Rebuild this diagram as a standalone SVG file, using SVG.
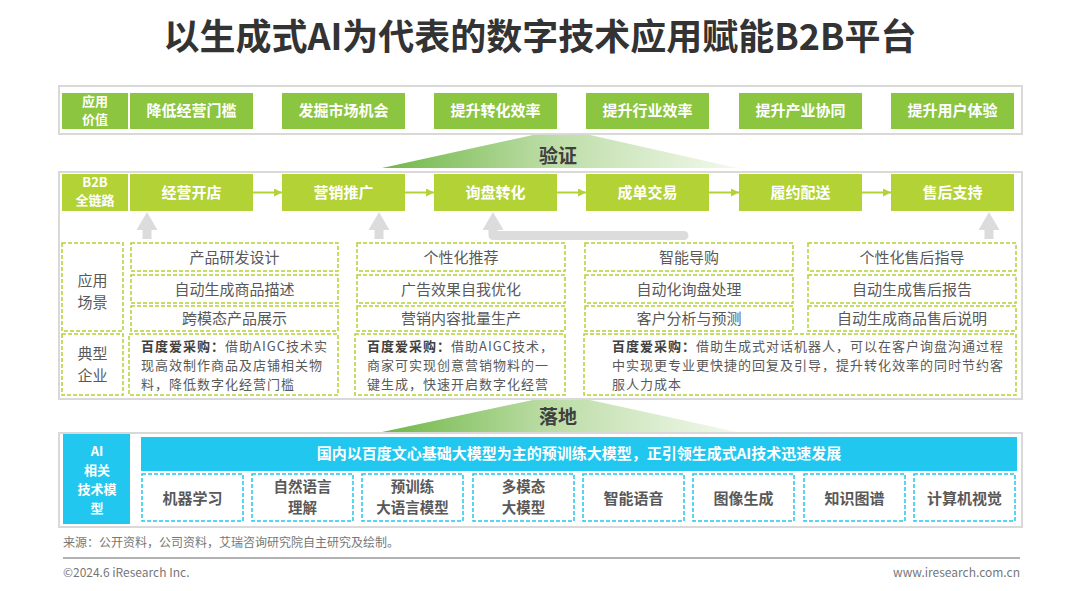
<svg xmlns="http://www.w3.org/2000/svg" width="1080" height="591" viewBox="0 0 1080 591">
<defs>
<style>
text{font-family:"Noto Sans CJK SC","Microsoft YaHei",sans-serif;}
.title{font-size:36px;font-weight:700;fill:#333;}
.panel{fill:#fff;stroke:#d9d9d9;stroke-width:2;}
.val{fill:#8cc540;}
.chain{fill:#b3d236;}
.wt{fill:#fff;font-weight:700;font-size:15px;text-anchor:middle;}
.wl{fill:#fff;font-weight:700;font-size:13px;text-anchor:middle;}
.dg{fill:none;stroke:#b3d236;stroke-width:1.5;stroke-dasharray:4 2;}
.dc{fill:none;stroke:#22c7f0;stroke-width:1.5;stroke-dasharray:4 2;}
.sc{fill:#595959;font-size:15px;text-anchor:middle;}
.lb{fill:#595959;font-size:15px;text-anchor:middle;}
.co{fill:#595959;font-size:13px;letter-spacing:1px;}
.cob{fill:#404040;font-weight:700;}
.ai{fill:#595959;font-size:15px;font-weight:700;text-anchor:middle;}
.ai2{fill:#595959;font-size:14.5px;font-weight:700;text-anchor:middle;}
.tri{font-size:19px;font-weight:700;fill:#404040;text-anchor:middle;}
.gray{fill:#dcdcdc;}
.arr{stroke:#b3d236;stroke-width:2;fill:none;}
.ft{fill:#777;font-size:12px;}
</style>
<marker id="ah" markerWidth="8" markerHeight="8" refX="8" refY="4" orient="auto" markerUnits="userSpaceOnUse">
<path d="M0,0 L8,4 L0,8 z" fill="#b3d236"/>
</marker>
<linearGradient id="gr" x1="0" y1="0" x2="1" y2="0">
<stop offset="0" stop-color="#70b747"/>
<stop offset="0.45" stop-color="#b9dba2"/>
<stop offset="1" stop-color="#f3f9ee"/>
</linearGradient>
</defs>
<rect width="1080" height="591" fill="#fff"/>
<text class="title" x="540" y="50" text-anchor="middle">以生成式AI为代表的数字技术应用赋能B2B平台</text>

<g id="value-row">
<rect class="panel" x="59" y="86" width="963" height="48"/>
<rect class="val" x="62" y="93" width="66" height="36"/>
<text class="wl"><tspan x="95" y="106">应用</tspan><tspan x="95" y="124">价值</tspan></text>
<rect class="val" x="130" y="93" width="123" height="36"/><text class="wt" x="191.5" y="116">降低经营门槛</text>
<rect class="val" x="282" y="93" width="123" height="36"/><text class="wt" x="343.5" y="116">发掘市场机会</text>
<rect class="val" x="434" y="93" width="123" height="36"/><text class="wt" x="495.5" y="116">提升转化效率</text>
<rect class="val" x="586" y="93" width="123" height="36"/><text class="wt" x="647.5" y="116">提升行业效率</text>
<rect class="val" x="739" y="93" width="123" height="36"/><text class="wt" x="800.5" y="116">提升产业协同</text>
<rect class="val" x="891" y="93" width="123" height="36"/><text class="wt" x="952.5" y="116">提升用户体验</text>
</g>

<g id="verify">
<polygon points="382,168 533,135 590,135 737,168" fill="url(#gr)"/>
<text class="tri" x="558" y="163">验证</text>
</g>

<g id="b2b-panel">
<rect class="panel" x="59" y="172" width="963" height="227"/>
<rect class="chain" x="62" y="174" width="66" height="37"/>
<text class="wl"><tspan x="95" y="187">B2B</tspan><tspan x="95" y="205">全链路</tspan></text>
</g>
<g id="chain-1"><rect class="chain" x="130" y="174" width="123" height="37"/><text class="wt" x="191.5" y="198">经营开店</text></g>
<g id="chain-2"><rect class="chain" x="282" y="174" width="123" height="37"/><text class="wt" x="343.5" y="198">营销推广</text></g>
<g id="chain-3"><rect class="chain" x="434" y="174" width="123" height="37"/><text class="wt" x="495.5" y="198">询盘转化</text></g>
<g id="chain-4"><rect class="chain" x="586" y="174" width="123" height="37"/><text class="wt" x="647.5" y="198">成单交易</text></g>
<g id="chain-5"><rect class="chain" x="739" y="174" width="123" height="37"/><text class="wt" x="800.5" y="198">履约配送</text></g>
<g id="chain-6"><rect class="chain" x="891" y="174" width="123" height="37"/><text class="wt" x="952.5" y="198">售后支持</text></g>

<g id="connectors">
<line class="arr" x1="253" y1="192.5" x2="282" y2="192.5" marker-end="url(#ah)"/>
<line class="arr" x1="405" y1="192.5" x2="434" y2="192.5" marker-end="url(#ah)"/>
<line class="arr" x1="557" y1="192.5" x2="586" y2="192.5" marker-end="url(#ah)"/>
<line class="arr" x1="709" y1="192.5" x2="739" y2="192.5" marker-end="url(#ah)"/>
<line class="arr" x1="862" y1="192.5" x2="891" y2="192.5" marker-end="url(#ah)"/>
<polygon class="gray" points="136.5,230 147,212 157.5,230"/><rect class="gray" x="142.5" y="229" width="9" height="10"/>
<polygon class="gray" points="368.5,230 379,212 389.5,230"/><rect class="gray" x="374.5" y="229" width="9" height="10"/>
<polygon class="gray" points="978.5,230 989,212 999.5,230"/><rect class="gray" x="984.5" y="229" width="9" height="10"/>
<polygon class="gray" points="482.5,230 493,212 503.5,230"/>
<path d="M493 229 V235.5 H684" fill="none" stroke="#dcdcdc" stroke-width="9" stroke-linejoin="round" stroke-linecap="round"/>
</g>

<g id="label-scenes">
<rect class="dg" x="62" y="243" width="61" height="88"/>
<text class="lb"><tspan x="92.5" y="286">应用</tspan><tspan x="92.5" y="308">场景</tspan></text>
</g>
<g id="label-companies">
<rect class="dg" x="62" y="334" width="61" height="61"/>
<text class="lb"><tspan x="92.5" y="359">典型</tspan><tspan x="92.5" y="381">企业</tspan></text>
</g>

<g id="scenes-1">
<rect class="dg" x="131" y="243" width="207" height="28"/><text class="sc" x="234.5" y="263">产品研发设计</text>
<rect class="dg" x="131" y="275" width="207" height="28"/><text class="sc" x="234.5" y="295">自动生成商品描述</text>
<rect class="dg" x="131" y="306" width="207" height="25"/><text class="sc" x="234.5" y="324">跨模态产品展示</text>
</g>
<g id="scenes-2">
<rect class="dg" x="357" y="243" width="208" height="28"/><text class="sc" x="461" y="263">个性化推荐</text>
<rect class="dg" x="357" y="275" width="208" height="28"/><text class="sc" x="461" y="295">广告效果自我优化</text>
<rect class="dg" x="357" y="306" width="208" height="25"/><text class="sc" x="461" y="324">营销内容批量生产</text>
</g>
<g id="scenes-3">
<rect class="dg" x="585" y="243" width="208" height="28"/><text class="sc" x="689" y="263">智能导购</text>
<rect class="dg" x="585" y="275" width="208" height="28"/><text class="sc" x="689" y="295">自动化询盘处理</text>
<rect class="dg" x="585" y="306" width="208" height="25"/><text class="sc" x="689" y="324">客户分析与预测</text>
</g>
<g id="scenes-4">
<rect class="dg" x="808" y="243" width="208" height="28"/><text class="sc" x="912" y="263">个性化售后指导</text>
<rect class="dg" x="808" y="275" width="208" height="28"/><text class="sc" x="912" y="295">自动生成售后报告</text>
<rect class="dg" x="808" y="306" width="208" height="25"/><text class="sc" x="912" y="324">自动生成商品售后说明</text>
</g>

<g id="company-1">
<rect class="dg" x="129" y="334" width="209" height="61"/>
<text class="co"><tspan x="141" y="351"><tspan class="cob">百度爱采购：</tspan>借助AIGC技术实</tspan><tspan x="141" y="370">现高效制作商品及店铺相关物</tspan><tspan x="141" y="389">料，降低数字化经营门槛</tspan></text>
</g>
<g id="company-2">
<rect class="dg" x="355" y="334" width="210" height="61"/>
<text class="co"><tspan x="367" y="351"><tspan class="cob">百度爱采购：</tspan>借助AIGC技术，</tspan><tspan x="367" y="370">商家可实现创意营销物料的一</tspan><tspan x="367" y="389">键生成，快速开启数字化经营</tspan></text>
</g>
<g id="company-3">
<rect class="dg" x="584" y="334" width="432" height="61"/>
<text class="co"><tspan x="612" y="351"><tspan class="cob">百度爱采购：</tspan>借助生成式对话机器人，可以在客户询盘沟通过程</tspan><tspan x="612" y="370">中实现更专业更快捷的回复及引导，提升转化效率的同时节约客</tspan><tspan x="612" y="389">服人力成本</tspan></text>
</g>

<g id="landing">
<polygon points="382,432 533,400 590,400 737,432" fill="url(#gr)"/>
<text class="tri" x="558" y="424">落地</text>
</g>

<g id="ai-panel">
<rect class="panel" x="59" y="433" width="963" height="94"/>
<rect x="63" y="434" width="67" height="90" fill="#22c7f0"/>
<text class="wl"><tspan x="97" y="456">AI</tspan><tspan x="97" y="475">相关</tspan><tspan x="97" y="494">技术模</tspan><tspan x="97" y="513">型</tspan></text>
<rect x="141" y="437" width="876" height="34" fill="#22c7f0"/>
<text class="wt" x="579" y="459">国内以百度文心基础大模型为主的预训练大模型，正引领生成式AI技术迅速发展</text>
</g>
<g id="ai-1"><rect class="dc" x="142" y="474" width="101" height="47"/><text class="ai" x="192.5" y="504">机器学习</text></g>
<g id="ai-2"><rect class="dc" x="252" y="474" width="101" height="47"/><text class="ai2"><tspan x="302.5" y="492">自然语言</tspan><tspan x="302.5" y="513">理解</tspan></text></g>
<g id="ai-3"><rect class="dc" x="362" y="474" width="101" height="47"/><text class="ai2"><tspan x="412.5" y="492">预训练</tspan><tspan x="412.5" y="513">大语言模型</tspan></text></g>
<g id="ai-4"><rect class="dc" x="473" y="474" width="101" height="47"/><text class="ai2"><tspan x="523.5" y="492">多模态</tspan><tspan x="523.5" y="513">大模型</tspan></text></g>
<g id="ai-5"><rect class="dc" x="583" y="474" width="101" height="47"/><text class="ai" x="633.5" y="504">智能语音</text></g>
<g id="ai-6"><rect class="dc" x="693" y="474" width="101" height="47"/><text class="ai" x="743.5" y="504">图像生成</text></g>
<g id="ai-7"><rect class="dc" x="804" y="474" width="101" height="47"/><text class="ai" x="854.5" y="504">知识图谱</text></g>
<g id="ai-8"><rect class="dc" x="914" y="474" width="101" height="47"/><text class="ai" x="964.5" y="504">计算机视觉</text></g>

<g id="footer">
<text class="ft" x="63" y="547">来源：公开资料，公司资料，艾瑞咨询研究院自主研究及绘制。</text>
<line x1="63" y1="558" x2="1020" y2="558" stroke="#999" stroke-width="1.5"/>
<text class="ft" x="63" y="577">©2024.6 iResearch Inc.</text>
<text class="ft" x="1020" y="577" text-anchor="end">www.iresearch.com.cn</text>
</g>
</svg>
